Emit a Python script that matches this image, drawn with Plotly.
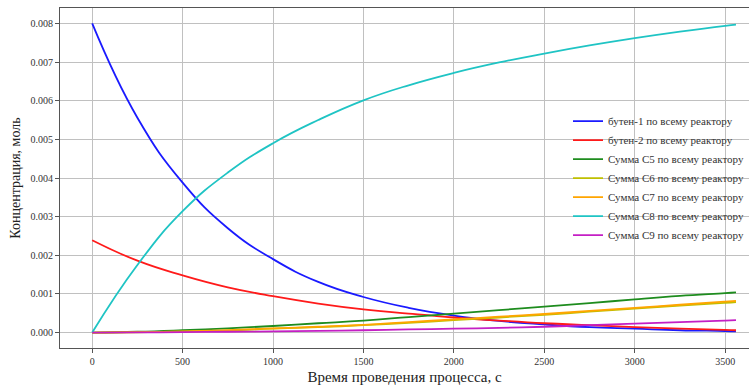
import plotly.graph_objects as go

# Время, с
t = [0, 250, 500, 750, 1000, 1250, 1500, 1750, 2000, 2250, 2500, 2750, 3000, 3250, 3500, 3560]

# Концентрации, моль
butene1 = [0.00800, 0.00556, 0.00388, 0.00270, 0.00190, 0.00131, 0.00092, 0.00064,
           0.00044, 0.00030, 0.00021, 0.00014, 0.00010, 0.00006, 0.00004, 0.00003]
butene2 = [0.00239, 0.00186, 0.00148, 0.00117, 0.00094, 0.00075, 0.00060, 0.00049,
           0.00039, 0.00031, 0.00024, 0.00019, 0.00014, 0.00010, 0.00007, 0.00006]
sum_c5 = [0.0, 0.00002, 0.00006, 0.00011, 0.00017, 0.00024, 0.00031, 0.00040,
          0.00049, 0.00058, 0.00067, 0.00076, 0.00086, 0.00095, 0.00102, 0.00104]
sum_c6 = [0.0, 0.000008, 0.000025, 0.00005, 0.00010, 0.00014, 0.00019, 0.00025,
          0.00032, 0.00039, 0.00046, 0.00054, 0.00062, 0.00070, 0.00077, 0.00079]
sum_c7 = [0.0, 0.00001, 0.00003, 0.00006, 0.00011, 0.00015, 0.00020, 0.00027,
          0.00034, 0.00041, 0.00048, 0.00056, 0.00064, 0.00072, 0.00080, 0.00082]
sum_c8 = [0.0, 0.00175, 0.00314, 0.00414, 0.00490, 0.00550, 0.00601, 0.00640,
          0.00672, 0.00699, 0.00722, 0.00743, 0.00762, 0.00779, 0.00794, 0.00797]
sum_c9 = [0.0, 0.000002, 0.00001, 0.00002, 0.00003, 0.000045, 0.00006, 0.00008,
          0.00010, 0.00012, 0.00015, 0.00019, 0.00023, 0.00027, 0.00031, 0.00032]

series = [
    ("бутен-1 по всему реактору", butene1, "#1a1aff"),
    ("бутен-2 по всему реактору", butene2, "#ff1a1a"),
    ("Сумма C5 по всему реактору", sum_c5, "#1e8c1e"),
    ("Сумма C6 по всему реактору", sum_c6, "#bfbf00"),
    ("Сумма C7 по всему реактору", sum_c7, "#ffa500"),
    ("Сумма C8 по всему реактору", sum_c8, "#1fc4c4"),
    ("Сумма C9 по всему реактору", sum_c9, "#c41fc4"),
]

FONT = "Liberation Serif"

fig = go.Figure()
for name, vals, color in series:
    fig.add_trace(go.Scatter(
        x=t, y=vals, name=name, mode="lines",
        line=dict(color=color, width=1.8, shape="spline", smoothing=1.3),
    ))

fig.update_layout(
    width=749, height=388,
    margin=dict(l=60, r=0, t=8, b=40),
    paper_bgcolor="white", plot_bgcolor="white",
    font=dict(family=FONT, color="#333333"),
    showlegend=True,
    legend=dict(
        x=1.0, y=0.71, xanchor="right", yanchor="top",
        bgcolor="rgba(0,0,0,0)", borderwidth=0,
        font=dict(family=FONT, size=11, color="#333333"),
        tracegroupgap=0, itemwidth=30,
    ),
)

fig.update_xaxes(
    range=[-178, 3632],
    tickvals=[0, 500, 1000, 1500, 2000, 2500, 3000, 3500],
    showgrid=True, gridcolor="#c0c0c0", gridwidth=1,
    showline=True, linecolor="#555555", linewidth=1.2, mirror=True,
    ticks="outside", ticklen=4, tickcolor="#555555",
    tickfont=dict(family=FONT, size=10, color="#333333"),
    zeroline=False,
    title=dict(text="Время проведения процесса, с",
               font=dict(family=FONT, size=15, color="#222222"), standoff=5),
)
fig.update_yaxes(
    range=[-0.0004, 0.0084],
    dtick=0.001, tick0=0, tickformat=".3f",
    showgrid=True, gridcolor="#c0c0c0", gridwidth=1,
    showline=True, linecolor="#555555", linewidth=1.2, mirror=False,
    ticks="outside", ticklen=4, tickcolor="#555555",
    tickfont=dict(family=FONT, size=10, color="#333333"),
    zeroline=False,
    title=dict(text="Концентрация, моль",
               font=dict(family=FONT, size=14, color="#222222"), standoff=6),
)

fig.write_html("out.html")
